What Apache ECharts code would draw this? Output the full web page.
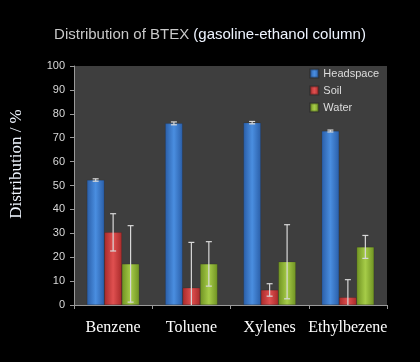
<!DOCTYPE html>
<html>
<head>
<meta charset="utf-8">
<script src="https://cdn.jsdelivr.net/npm/echarts@6/dist/echarts.min.js"></script>
<style>
  html, body { margin: 0; padding: 0; background: #000; }
  #chart { width: 420px; height: 362px; }
</style>
</head>
<body>
<div id="chart"></div>
<script>
const categories = ['Benzene', 'Toluene', 'Xylenes', 'Ethylbezene'];
const seriesNames = ['Headspace', 'Soil', 'Water'];
const headspace = [52.3, 76.0, 76.3, 72.8];
const soil = [30.4, 7.2, 6.3, 3.2];
const water = [17.2, 17.2, 18.1, 24.3];
const headspaceErr = [0.5, 0.6, 0.5, 0.4];
const soilErr = [7.8, 19.0, 2.6, 7.4];
const waterErr = [16.0, 9.3, 15.5, 4.8];
const yTicks = [0, 10, 20, 30, 40, 50, 60, 70, 80, 90, 100];

const values = [headspace, soil, water];
const errors = [headspaceErr, soilErr, waterErr];
const colors = [
  ['#2a5ea8', '#4a8ee0', '#2a5ea8'],
  ['#a82a2a', '#e05050', '#a82a2a'],
  ['#6f9222', '#a6cc48', '#6f9222'],
];
const gapRatio = 0.33;

const chart = echarts.init(document.getElementById('chart'));

function grad(c) {
  return new echarts.graphic.LinearGradient(0, 0, 1, 0, [
    { offset: 0, color: c[0] },
    { offset: 0.5, color: c[1] },
    { offset: 1, color: c[2] },
  ]);
}

const barSeries = seriesNames.map((name, i) => ({
  name,
  type: 'bar',
  data: values[i],
  barGap: '0%',
  barCategoryGap: gapRatio * 100 + '%',
  itemStyle: { color: grad(colors[i]), borderColor: 'rgba(0,0,0,0.25)', borderWidth: 0.5 },
  z: 2,
}));

const errSeries = seriesNames.map((name, i) => ({
  type: 'custom',
  name: name + ' err',
  z: 5,
  clip: true,
  data: values[i].map((v, j) => [j, v, errors[i][j]]),
  renderItem(params, api) {
    const idx = api.value(0);
    const v = api.value(1);
    const e = api.value(2);
    const band = api.size([1, 0])[0];
    const bw = band * (1 - gapRatio) / 3;
    const c = api.coord([idx, v]);
    const x = c[0] + (i - 1) * bw;
    const hi = api.coord([idx, v + e])[1];
    const lo = api.coord([idx, v - e])[1];
    const style = { stroke: '#d8d8d8', lineWidth: 1.2 };
    return {
      type: 'group',
      children: [
        { type: 'line', shape: { x1: x, y1: hi, x2: x, y2: lo }, style },
        { type: 'line', shape: { x1: x - 3, y1: hi, x2: x + 3, y2: hi }, style },
        { type: 'line', shape: { x1: x - 3, y1: lo, x2: x + 3, y2: lo }, style },
      ],
    };
  },
}));

chart.setOption({
  backgroundColor: '#000',
  animation: false,
  title: {
    text: '{a|Distribution of BTEX }{b|(gasoline-ethanol column)}',
    left: 'center',
    top: 22,
    textStyle: {
      fontWeight: 'normal',
      rich: {
        a: { color: '#c8c8c8', fontSize: 15, fontWeight: 'normal', fontFamily: 'Arial, Liberation Sans, sans-serif' },
        b: { color: '#eef4ff', fontSize: 15, fontWeight: 'normal', fontFamily: 'Arial, Liberation Sans, sans-serif' },
      },
    },
  },
  graphic: [{
    type: 'text',
    x: 17,
    y: 164,
    rotation: Math.PI / 2,
    style: {
      text: 'Distribution / %',
      fill: '#f0f6ff',
      fontSize: 17,
      fontFamily: 'Times New Roman, Liberation Serif, serif',
      align: 'center',
      verticalAlign: 'middle',
    },
  }],
  legend: {
    data: seriesNames,
    orient: 'vertical',
    right: 36,
    top: 63,
    itemWidth: 8,
    itemHeight: 8,
    itemGap: 6,
    icon: 'rect',
    textStyle: { color: '#dddddd', fontSize: 11, fontFamily: 'Arial, Liberation Sans, sans-serif' },
  },
  grid: {
    left: 74,
    right: 33,
    top: 66,
    bottom: 57,
    show: true,
    backgroundColor: '#3e3e3e',
    borderWidth: 0,
  },
  xAxis: {
    type: 'category',
    data: categories,
    axisLine: { lineStyle: { color: '#9a9a9a', width: 1 } },
    axisTick: { show: true, inside: false, length: 4, lineStyle: { color: '#9a9a9a' } },
    axisLabel: {
      interval: 0,
      color: '#ffffff',
      fontSize: 16,
      fontFamily: 'Times New Roman, Liberation Serif, serif',
      margin: 15,
    },
  },
  yAxis: {
    type: 'value',
    min: yTicks[0],
    max: yTicks[yTicks.length - 1],
    interval: 10,
    axisLine: { show: true, lineStyle: { color: '#9a9a9a' } },
    axisTick: { show: true, length: 4, lineStyle: { color: '#9a9a9a' } },
    splitLine: { show: false },
    axisLabel: {
      color: '#d8d8d8',
      fontSize: 11,
      fontFamily: 'Arial, Liberation Sans, sans-serif',
      margin: 9,
    },
  },
  series: [...barSeries, ...errSeries],
});
</script>
</body>
</html>
